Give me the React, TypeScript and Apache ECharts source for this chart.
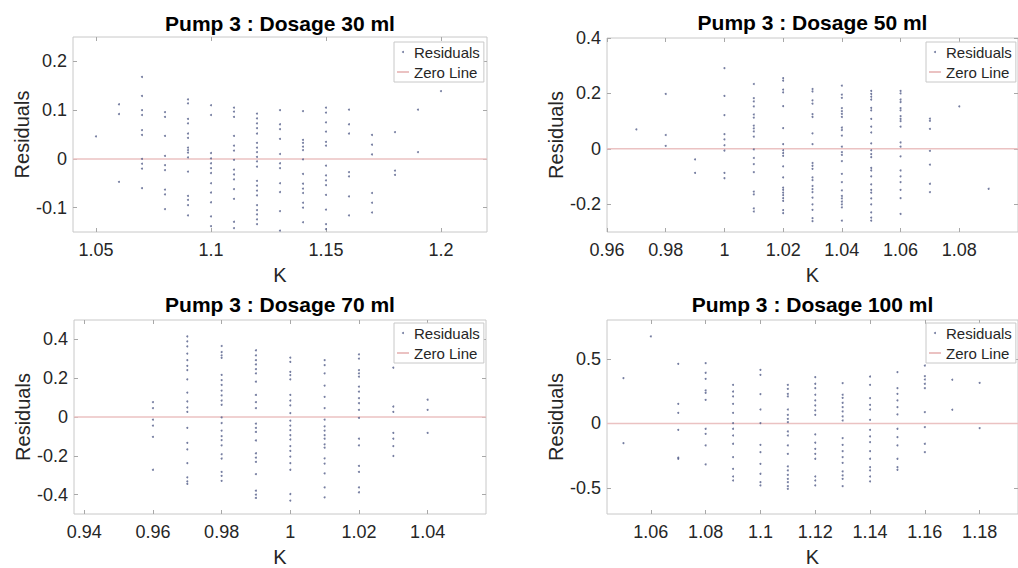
import React, { useEffect, useRef } from "react";
import * as echarts from "echarts";

// ---------- data ----------
const k30 = [1.05, 1.06, 1.07, 1.08, 1.09, 1.1, 1.11, 1.12, 1.13, 1.14, 1.15, 1.16, 1.17, 1.18, 1.19, 1.2];
const r30 = [
  [0.046],
  [0.112, 0.092, -0.047],
  [0.168, 0.129, 0.1, 0.09, 0.059, 0.049, 0.0, -0.01, -0.02, -0.06],
  [0.096, 0.086, 0.047, 0.006, -0.013, -0.023, -0.063, -0.073, -0.103],
  [0.122, 0.114, 0.082, 0.073, 0.052, 0.043, 0.023, 0.018, 0.013, 0.003, -0.026, -0.076, -0.084, -0.095, -0.116],
  [0.11, 0.09, 0.012, 0.001, -0.009, -0.019, -0.029, -0.05, -0.069, -0.089, -0.118, -0.138],
  [0.105, 0.097, 0.086, 0.047, 0.027, 0.017, -0.002, -0.022, -0.032, -0.042, -0.062, -0.082, -0.129, -0.142],
  [0.093, 0.083, 0.073, 0.063, 0.052, 0.033, 0.023, 0.014, 0.004, -0.005, -0.016, -0.045, -0.055, -0.065, -0.075, -0.095, -0.105, -0.114, -0.124, -0.134],
  [0.1, 0.071, 0.061, 0.041, 0.01, -0.009, -0.019, -0.05, -0.068, -0.107, -0.147],
  [0.098, 0.039, 0.033, 0.025, 0.018, -0.001, -0.031, -0.051, -0.061, -0.07, -0.09, -0.1, -0.13],
  [0.105, 0.095, 0.075, 0.056, 0.035, 0.027, -0.014, -0.034, -0.044, -0.054, -0.074, -0.104, -0.134, -0.144],
  [0.101, 0.071, 0.052, -0.027, -0.036, -0.077, -0.116],
  [0.049, 0.029, 0.009, -0.07, -0.09, -0.11],
  [0.055, -0.024, -0.033],
  [0.101, 0.014],
  [0.139],
];

const k50 = [0.97, 0.98, 0.99, 1.0, 1.01, 1.02, 1.03, 1.04, 1.05, 1.06, 1.07, 1.08, 1.09];
const r50 = [
  [0.07],
  [0.198, 0.05, 0.011],
  [-0.038, -0.087],
  [0.291, 0.191, 0.122, 0.053, 0.034, 0.013, -0.006, -0.087, -0.106],
  [0.234, 0.183, 0.171, 0.153, 0.124, 0.113, 0.084, 0.074, 0.063, 0.044, -0.002, -0.033, -0.055, -0.084, -0.154, -0.164, -0.215, -0.226],
  [0.255, 0.246, 0.214, 0.204, 0.154, 0.075, 0.017, -0.005, -0.015, -0.025, -0.063, -0.103, -0.14, -0.148, -0.158, -0.167, -0.178, -0.188, -0.221, -0.232],
  [0.216, 0.207, 0.175, 0.163, 0.125, 0.115, 0.056, 0.017, -0.051, -0.061, -0.072, -0.103, -0.113, -0.134, -0.145, -0.156, -0.176, -0.2, -0.22, -0.25, -0.261],
  [0.228, 0.196, 0.184, 0.147, 0.136, 0.126, 0.115, 0.077, 0.068, 0.048, 0.008, -0.012, -0.022, -0.044, -0.09, -0.12, -0.15, -0.17, -0.179, -0.19, -0.2, -0.211, -0.259],
  [0.209, 0.198, 0.188, 0.178, 0.148, 0.139, 0.108, 0.08, 0.059, 0.02, -0.005, -0.019, -0.03, -0.069, -0.078, -0.099, -0.128, -0.148, -0.158, -0.179, -0.2, -0.229, -0.248, -0.259],
  [0.209, 0.2, 0.178, 0.169, 0.147, 0.139, 0.118, 0.108, 0.1, 0.08, 0.023, 0.008, -0.027, -0.078, -0.099, -0.12, -0.148, -0.178, -0.235],
  [0.109, 0.101, 0.072, -0.007, -0.057, -0.126, -0.156],
  [0.153],
  [-0.144],
];

const k70 = [0.96, 0.97, 0.98, 0.99, 1.0, 1.01, 1.02, 1.03, 1.04];
const r70 = [
  [0.077, 0.046, -0.014, -0.044, -0.102, -0.272],
  [0.415, 0.39, 0.364, 0.327, 0.293, 0.264, 0.242, 0.194, 0.126, 0.08, 0.049, 0.026, -0.056, -0.133, -0.167, -0.238, -0.311, -0.332, -0.345],
  [0.366, 0.335, 0.318, 0.305, 0.217, 0.19, 0.165, 0.136, 0.111, 0.085, 0.063, -0.002, -0.031, -0.07, -0.099, -0.119, -0.146, -0.192, -0.214, -0.283, -0.303, -0.329],
  [0.344, 0.318, 0.293, 0.271, 0.247, 0.225, 0.182, 0.114, 0.077, 0.046, -0.034, -0.056, -0.077, -0.121, -0.187, -0.209, -0.231, -0.294, -0.38, -0.4, -0.417],
  [0.306, 0.284, 0.233, 0.216, 0.194, 0.114, 0.085, 0.06, 0.02, -0.019, -0.044, -0.068, -0.094, -0.116, -0.15, -0.175, -0.204, -0.238, -0.272, -0.397, -0.431],
  [0.293, 0.267, 0.225, 0.162, 0.104, 0.046, -0.014, -0.048, -0.07, -0.094, -0.112, -0.141, -0.158, -0.213, -0.24, -0.291, -0.363, -0.414],
  [0.323, 0.301, 0.242, 0.225, 0.208, 0.157, 0.131, 0.097, 0.071, 0.037, -0.005, -0.112, -0.146, -0.252, -0.283, -0.363, -0.388],
  [0.254, 0.054, 0.026, -0.082, -0.112, -0.15, -0.201],
  [0.089, 0.037, -0.082],
];

const k100 = [1.05, 1.06, 1.07, 1.08, 1.09, 1.1, 1.11, 1.12, 1.13, 1.14, 1.15, 1.16, 1.17, 1.18];
const r100 = [
  [0.351, -0.152],
  [0.673],
  [0.461, 0.152, 0.082, -0.049, -0.265, -0.273],
  [0.466, 0.392, 0.345, 0.255, 0.237, 0.183, -0.041, -0.08, -0.17, -0.317],
  [0.299, 0.247, 0.209, 0.152, 0.082, 0.003, -0.041, -0.093, -0.157, -0.26, -0.351, -0.41, -0.441],
  [0.415, 0.376, 0.227, 0.108, 0.003, -0.165, -0.222, -0.312, -0.389, -0.454, -0.479],
  [0.299, 0.268, 0.229, 0.209, 0.108, 0.067, 0.036, 0.01, -0.062, -0.093, -0.17, -0.235, -0.332, -0.363, -0.397, -0.428, -0.454, -0.485, -0.505],
  [0.358, 0.307, 0.273, 0.222, 0.178, 0.139, 0.101, 0.067, -0.085, -0.149, -0.196, -0.235, -0.273, -0.41, -0.441, -0.479],
  [0.312, 0.222, 0.198, 0.16, 0.126, 0.093, 0.054, 0.023, -0.113, -0.165, -0.214, -0.26, -0.304, -0.371, -0.402, -0.428, -0.485],
  [0.363, 0.299, 0.196, 0.144, 0.108, 0.028, -0.049, -0.1, -0.144, -0.214, -0.273, -0.338, -0.363, -0.41, -0.448],
  [0.397, 0.273, 0.229, 0.178, 0.126, 0.07, -0.041, -0.106, -0.17, -0.273, -0.338, -0.358],
  [0.448, 0.366, 0.34, 0.307, 0.273, 0.088, -0.028, -0.157, -0.222],
  [0.338, 0.106],
  [0.314, -0.036],
];

const titles = ["Pump 3 : Dosage 30 ml", "Pump 3 : Dosage 50 ml", "Pump 3 : Dosage 70 ml", "Pump 3 : Dosage 100 ml"];
const xRanges = [[1.04, 1.22], [0.96, 1.1], [0.937, 1.057], [1.044, 1.194]];
const xTicks = [
  [1.05, 1.1, 1.15, 1.2],
  [0.96, 0.98, 1, 1.02, 1.04, 1.06, 1.08],
  [0.94, 0.96, 0.98, 1, 1.02, 1.04],
  [1.06, 1.08, 1.1, 1.12, 1.14, 1.16, 1.18],
];
const yRanges = [[-0.15, 0.25], [-0.3, 0.4], [-0.5, 0.5], [-0.7, 0.8]];
const yTicks = [
  [-0.1, 0, 0.1, 0.2],
  [-0.2, 0, 0.2, 0.4],
  [-0.4, -0.2, 0, 0.2, 0.4],
  [-0.5, 0, 0.5],
];
const kCols = [k30, k50, k70, k100];
const resCols = [r30, r50, r70, r100];

// ---------- layout ----------
const grids = [
  { left: 73, top: 37, width: 414, height: 195 },
  { left: 607, top: 38, width: 411, height: 194 },
  { left: 74, top: 320, width: 412, height: 194 },
  { left: 607, top: 320, width: 411, height: 194 },
];
const legendPos = [
  { left: 394, top: 42 },
  { left: 926, top: 42 },
  { left: 394, top: 323 },
  { left: 926, top: 323 },
];
const titleTops = [12, 11, 293, 293];
const yNameGaps = [37, 41, 38, 41];

const FONT = '"Liberation Sans", Arial, sans-serif';
const TXT = "#262626";
const BOX = "#c8c8c8";
const TICK = "#a8a8a8";
const DOT = "#525d88";
const ZERO = "#ebc2c2";

export default function App() {
  const ref = useRef<HTMLDivElement>(null);

  useEffect(() => {
    if (!ref.current) return;
    const chart = echarts.init(ref.current, undefined, { renderer: "svg" });

    const xAxis: any[] = [];
    const yAxis: any[] = [];
    const series: any[] = [];
    const title: any[] = [];
    const legend: any[] = [];

    const tick = (vals: number[]) => ({
      show: true, inside: true, length: 4, customValues: vals.slice(),
      lineStyle: { color: TICK, width: 1 },
    });
    const noLine = () => ({ show: false, onZero: false });

    grids.forEach((g, i) => {
      const [xmin, xmax] = xRanges[i];
      const [ymin, ymax] = yRanges[i];
      xAxis.push({
        type: "value", gridIndex: i, min: xmin, max: xmax, position: "bottom",
        axisLine: noLine(), splitLine: { show: false },
        axisTick: tick(xTicks[i]),
        axisLabel: { customValues: xTicks[i].slice(), fontSize: 18, color: TXT, fontFamily: FONT, margin: 9 },
        name: "K", nameLocation: "middle", nameGap: 33,
        nameTextStyle: { fontSize: 20, color: TXT, fontFamily: FONT },
      });
      xAxis.push({
        type: "value", gridIndex: i, min: xmin, max: xmax, position: "top",
        axisLine: noLine(), splitLine: { show: false },
        axisTick: tick(xTicks[i]),
        axisLabel: { show: false },
      });
      yAxis.push({
        type: "value", gridIndex: i, min: ymin, max: ymax, position: "left",
        axisLine: noLine(), splitLine: { show: false },
        axisTick: tick(yTicks[i]),
        axisLabel: { customValues: yTicks[i].slice(), fontSize: 18, color: TXT, fontFamily: FONT, margin: 6 },
        name: "Residuals", nameLocation: "middle", nameGap: yNameGaps[i],
        nameTextStyle: { fontSize: 20, color: TXT, fontFamily: FONT },
      });
      yAxis.push({
        type: "value", gridIndex: i, min: ymin, max: ymax, position: "right",
        axisLine: noLine(), splitLine: { show: false },
        axisTick: tick(yTicks[i]),
        axisLabel: { show: false },
      });

      const pts: number[][] = [];
      kCols[i].forEach((k, j) => resCols[i][j].forEach((r) => pts.push([k, r])));

      series.push({
        type: "line", name: "Zero Line", xAxisIndex: 2 * i, yAxisIndex: 2 * i,
        data: [[xmin, 0], [xmax, 0]], symbol: "none", silent: true, z: 5,
        lineStyle: { color: ZERO, width: 1.5, opacity: 1 }, itemStyle: { color: ZERO },
      });
      series.push({
        type: "scatter", name: "Residuals", xAxisIndex: 2 * i, yAxisIndex: 2 * i,
        data: pts, symbol: "circle", symbolSize: 2, z: 6,
        itemStyle: { color: DOT, opacity: 0.8 }, silent: true,
      });

      title.push({
        text: titles[i], left: g.left + g.width / 2, top: titleTops[i] + 1, textAlign: "center", padding: 0,
        textStyle: { fontSize: 21, fontWeight: "bold", color: "#000", fontFamily: FONT },
      });

      legend.push({
        orient: "vertical", left: legendPos[i].left, top: legendPos[i].top,
        data: [{ name: "Residuals", icon: "circle" }, { name: "Zero Line" }],
        itemWidth: 12, itemHeight: 2, itemGap: 2, padding: [1, 4, 1, 2],
        borderColor: BOX, borderWidth: 1, backgroundColor: "#fff",
        selectedMode: false,
        textStyle: { fontSize: 15, color: TXT, fontFamily: FONT, lineHeight: 18 },
      });
    });

    chart.setOption({
      animation: false,
      backgroundColor: "#fff",
      title,
      legend,
      grid: grids.map((g) => ({ ...g, show: true, borderColor: BOX, borderWidth: 1, backgroundColor: "#fff", containLabel: false })),
      xAxis,
      yAxis,
      series,
    });

    return () => chart.dispose();
  }, []);

  return (
    <div
      ref={ref}
      style={{ position: "fixed", left: 0, top: 0, width: 1018, height: 568, background: "#fff" }}
    />
  );
}
